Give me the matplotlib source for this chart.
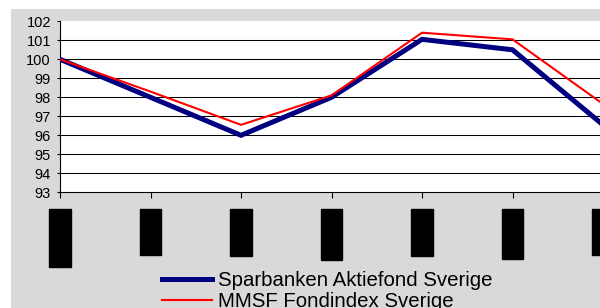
import matplotlib.pyplot as plt
from matplotlib.lines import Line2D
from matplotlib.patches import Rectangle

plt.rcParams['font.family'] = ['Liberation Sans', 'DejaVu Sans']

# data
periods = ['2006-12', 'jan-07', 'feb-07', 'mar-07', 'apr-07', 'maj-07', 'jun-07']
sparbanken = [100.0, 98.0, 96.0, 98.0, 101.05, 100.5, 96.55]
msf_index = [100.0, 98.3, 96.55, 98.1, 101.4, 101.05, 97.65]
yticks = [93, 94, 95, 96, 97, 98, 99, 100, 101, 102]

fig = plt.figure(figsize=(6, 3.08), dpi=100, facecolor='white')

# gray chart area background
fig.patches.append(Rectangle((11 / 600, 0), 1, 299 / 308, transform=fig.transFigure,
                             facecolor='#d9d9d9', edgecolor='none', zorder=-10))

ax = fig.add_axes([60 / 600, 115.7 / 308, 543 / 600, 171 / 308])
ax.set_facecolor('white')

x = range(len(periods))
ax.plot(x, sparbanken, color='#000080', lw=3.6, label='Sparbanken Aktiefond Sverige',
        solid_joinstyle='miter', zorder=3)
ax.plot(x, msf_index, color='#ff0000', lw=1.5, label='MMSF Fondindex Sverige', zorder=4)

ax.set_xlim(0, len(periods) - 1)
ax.set_ylim(93, 102)
ax.set_yticks(yticks)
ax.set_yticklabels([str(v) for v in yticks])
ax.set_xticks(list(x))
ax.set_xticklabels(periods, rotation=90, va='top', ha='center')

for v in yticks[1:-1]:
    ax.axhline(v, color='black', lw=0.75, zorder=1)

for s in ['top', 'right']:
    ax.spines[s].set_visible(False)
ax.spines['left'].set_linewidth(0.8)
ax.spines['bottom'].set_linewidth(0.8)

ax.tick_params(axis='y', length=2.5, width=0.8, pad=4, labelsize=10.5, colors='black')
ax.tick_params(axis='x', length=4.5, width=0.8, pad=10.8, labelsize=9.5)
for lab in ax.get_xticklabels():
    lab.set_bbox(dict(facecolor='black', edgecolor='black', boxstyle='square,pad=0.35'))
    lab.set_color('black')

handles = [Line2D([], [], color='#000080', lw=3.6),
           Line2D([], [], color='#ff0000', lw=1.5)]
fig.legend(handles, ['Sparbanken Aktiefond Sverige', 'MMSF Fondindex Sverige'],
           loc='upper left', bbox_to_anchor=(162 / 600, 37 / 308), frameon=False,
           fontsize=14.7, handlelength=2.45, handletextpad=0.3, labelspacing=0.1,
           borderpad=0, borderaxespad=0)

fig.savefig('out.png', dpi=100, facecolor='white')
